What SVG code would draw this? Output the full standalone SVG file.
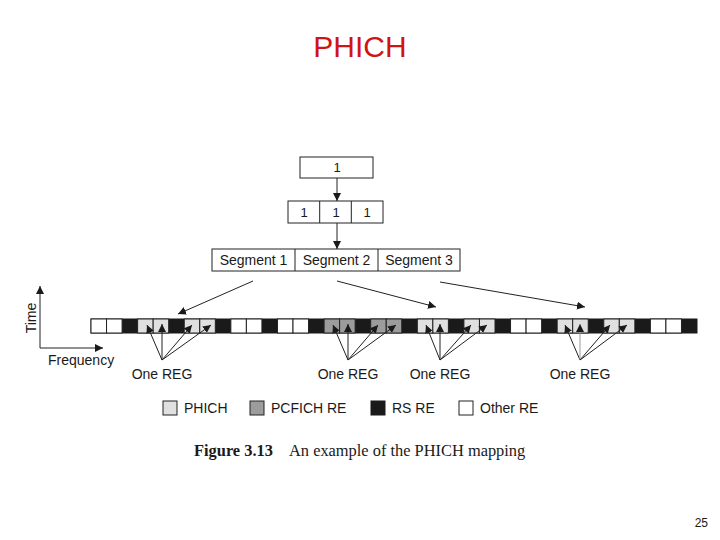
<svg xmlns="http://www.w3.org/2000/svg" width="720" height="540" viewBox="0 0 720 540">
<style>
text{font-family:"Liberation Sans",Arial,sans-serif;fill:#1a1a1a}
.box{fill:#fff;stroke:#222;stroke-width:1}
.lbl{font-size:14px}
.num{font-size:13px;text-anchor:middle}
.seg{font-size:14px;text-anchor:middle}
.w{fill:#fff;stroke:#222;stroke-width:1}
.p{fill:#e0e0e0;stroke:#222;stroke-width:1}
.c{fill:#9c9c9c;stroke:#222;stroke-width:1}
.k{fill:#1a1a1a;stroke:#1a1a1a;stroke-width:1}
.ln{stroke:#222;stroke-width:1;fill:none;marker-end:url(#ah)}
.lg{stroke:#999;stroke-width:1;fill:none;marker-end:url(#ah)}
</style>
<defs>
<marker id="ah" viewBox="0 0 10 10" refX="10" refY="5" markerWidth="8" markerHeight="8" markerUnits="userSpaceOnUse" orient="auto">
<path d="M0,0 L10,5 L0,10 z" fill="#1a1a1a"/>
</marker>
</defs>
<rect width="720" height="540" fill="#fff"/>
<text x="360" y="57" style="font-size:30px;fill:#d01414;text-anchor:middle">PHICH</text>

<g id="top-box">
<rect class="box" x="300" y="157" width="73" height="21"/>
<text class="num" x="337" y="172">1</text>
</g>
<g id="repeat-box">
<rect class="box" x="288" y="201" width="95" height="22"/>
<line x1="319.7" y1="201" x2="319.7" y2="223" stroke="#222"/>
<line x1="351.3" y1="201" x2="351.3" y2="223" stroke="#222"/>
<text class="num" x="304" y="217">1</text>
<text class="num" x="336" y="217">1</text>
<text class="num" x="367" y="217">1</text>
</g>
<g id="segments">
<rect class="box" x="212" y="249" width="248" height="22"/>
<line x1="295" y1="249" x2="295" y2="271" stroke="#222"/>
<line x1="378" y1="249" x2="378" y2="271" stroke="#222"/>
<text class="seg" x="253.5" y="265">Segment 1</text>
<text class="seg" x="336.5" y="265">Segment 2</text>
<text class="seg" x="419" y="265">Segment 3</text>
</g>

<g id="axes">
<line class="ln" x1="40" y1="348" x2="40" y2="286"/>
<line class="ln" x1="40" y1="348" x2="103" y2="348"/>
<text class="lbl" x="36" y="318" text-anchor="middle" transform="rotate(-90 36 318)">Time</text>
<text class="lbl" x="48" y="365">Frequency</text>
</g>

<g id="strip">
<rect class="k" x="91" y="319" width="606" height="14"/>
<rect class="w" x="91" y="319" width="15.54" height="14"/>
<rect class="w" x="106.54" y="319" width="15.54" height="14"/>
<rect class="p" x="137.62" y="319" width="15.54" height="14"/>
<rect class="p" x="153.15" y="319" width="15.54" height="14"/>
<rect class="p" x="184.23" y="319" width="15.54" height="14"/>
<rect class="p" x="199.77" y="319" width="15.54" height="14"/>
<rect class="w" x="230.85" y="319" width="15.54" height="14"/>
<rect class="w" x="246.38" y="319" width="15.54" height="14"/>
<rect class="w" x="277.46" y="319" width="15.54" height="14"/>
<rect class="w" x="293" y="319" width="15.54" height="14"/>
<rect class="c" x="324.08" y="319" width="15.54" height="14"/>
<rect class="c" x="339.62" y="319" width="15.54" height="14"/>
<rect class="c" x="370.69" y="319" width="15.54" height="14"/>
<rect class="c" x="386.23" y="319" width="15.54" height="14"/>
<rect class="p" x="417.31" y="319" width="15.54" height="14"/>
<rect class="p" x="432.85" y="319" width="15.54" height="14"/>
<rect class="p" x="463.92" y="319" width="15.54" height="14"/>
<rect class="p" x="479.46" y="319" width="15.54" height="14"/>
<rect class="w" x="510.54" y="319" width="15.54" height="14"/>
<rect class="w" x="526.08" y="319" width="15.54" height="14"/>
<rect class="p" x="557.15" y="319" width="15.54" height="14"/>
<rect class="p" x="572.69" y="319" width="15.54" height="14"/>
<rect class="p" x="603.77" y="319" width="15.54" height="14"/>
<rect class="p" x="619.31" y="319" width="15.54" height="14"/>
<rect class="w" x="650.38" y="319" width="15.54" height="14"/>
<rect class="w" x="665.92" y="319" width="15.54" height="14"/>
</g>

<g id="connectors">
<line class="ln" x1="337" y1="178" x2="337" y2="201"/>
<line class="ln" x1="337" y1="223" x2="337" y2="249"/>
<line class="ln" x1="253" y1="281" x2="178" y2="314"/>
<line class="ln" x1="337" y1="281" x2="436" y2="307"/>
<line class="ln" x1="440" y1="282" x2="585" y2="307"/>
<line class="ln" x1="162" y1="360" x2="147" y2="325"/>
<line class="ln" x1="162" y1="360" x2="162" y2="324"/>
<line class="ln" x1="162" y1="360" x2="192" y2="325"/>
<line class="ln" x1="162" y1="360" x2="211" y2="325"/>
<line class="ln" x1="348" y1="360" x2="333" y2="325"/>
<line class="ln" x1="348" y1="360" x2="348" y2="324"/>
<line class="ln" x1="348" y1="360" x2="378" y2="325"/>
<line class="ln" x1="348" y1="360" x2="396" y2="325"/>
<line class="ln" x1="440" y1="360" x2="426" y2="325"/>
<line class="ln" x1="440" y1="360" x2="440" y2="324"/>
<line class="ln" x1="440" y1="360" x2="471" y2="325"/>
<line class="ln" x1="440" y1="360" x2="487" y2="325"/>
<line class="ln" x1="580" y1="360" x2="565" y2="325"/>
<line class="lg" x1="580" y1="360" x2="580" y2="324"/>
<line class="ln" x1="580" y1="360" x2="610" y2="325"/>
<line class="ln" x1="580" y1="360" x2="627" y2="325"/>
</g>

<g id="reg-labels">
<text class="lbl" x="162" y="379" text-anchor="middle">One REG</text>
<text class="lbl" x="348" y="379" text-anchor="middle">One REG</text>
<text class="lbl" x="440" y="379" text-anchor="middle">One REG</text>
<text class="lbl" x="580" y="379" text-anchor="middle">One REG</text>
</g>

<g id="legend">
<rect class="p" x="163" y="401" width="14" height="14" stroke="#555"/>
<text class="lbl" x="184" y="413">PHICH</text>
<rect class="c" x="250" y="401" width="14" height="14"/>
<text class="lbl" x="271" y="413">PCFICH RE</text>
<rect class="k" x="371" y="401" width="14" height="14"/>
<text class="lbl" x="392" y="413">RS RE</text>
<rect class="w" x="459" y="401" width="14" height="14" stroke="#555"/>
<text class="lbl" x="480" y="413">Other RE</text>
</g>

<text x="194" y="456" style="font-family:'Liberation Serif','Times New Roman',serif;font-size:16.4px"><tspan font-weight="bold">Figure 3.13</tspan><tspan x="289">An example of the PHICH mapping</tspan></text>
<text x="708" y="527" style="font-size:12px;text-anchor:end">25</text>
</svg>
